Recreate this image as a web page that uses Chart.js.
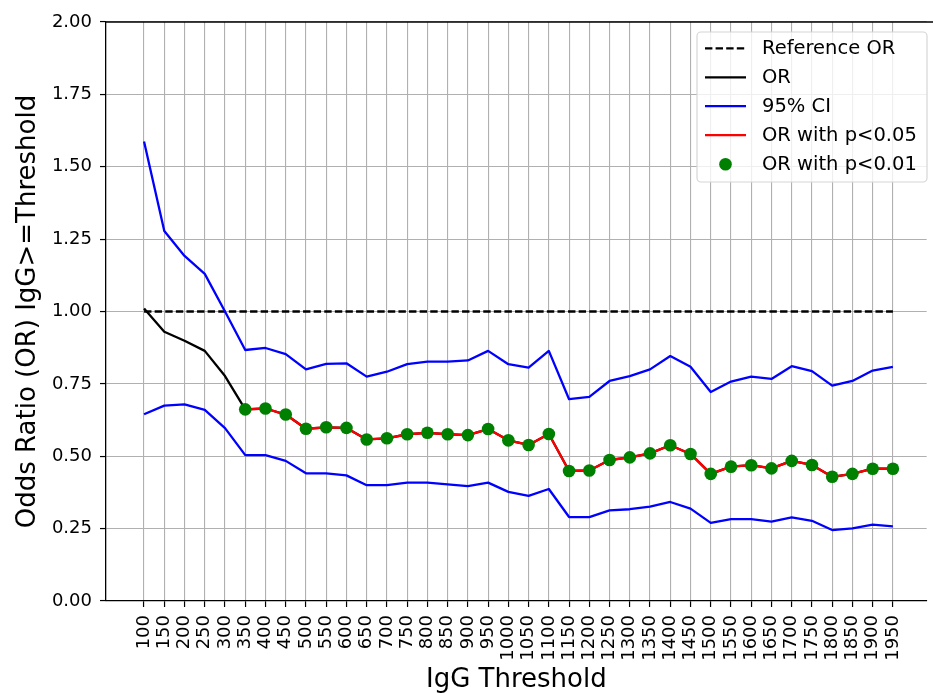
<!DOCTYPE html>
<html>
<head>
<meta charset="utf-8">
<script src="https://cdn.jsdelivr.net/npm/chart.js@4"></script>
<style>
  html, body { margin: 0; padding: 0; background: #fff; overflow: hidden; }
  #c { display: block; }
</style>
</head>
<body>
<canvas id="c" width="933" height="693"></canvas>
<script>
const thresholds = [100,150,200,250,300,350,400,450,500,550,600,650,700,750,800,850,900,950,1000,1050,
  1100,1150,1200,1250,1300,1350,1400,1450,1500,1550,1600,1650,1700,1750,1800,1850,1900,1950];

const referenceOR = [1,1,1,1,1,1,1,1,1,1,1,1,1,1,1,1,1,1,1,1,1,1,1,1,1,1,1,1,1,1,1,1,1,1,1,1,1,1];

const oddsRatio = [1.010,0.930,0.899,0.864,0.777,0.662,0.665,0.644,0.595,0.600,0.598,0.558,0.562,0.576,
  0.581,0.576,0.573,0.594,0.555,0.539,0.577,0.449,0.451,0.487,0.496,0.510,0.538,0.508,0.439,0.464,
  0.469,0.458,0.484,0.470,0.429,0.439,0.457,0.457];

const ciUpper = [1.587,1.278,1.192,1.130,1.000,0.867,0.874,0.853,0.800,0.819,0.821,0.775,0.792,0.818,
  0.827,0.827,0.831,0.864,0.818,0.806,0.864,0.697,0.705,0.760,0.777,0.800,0.846,0.809,0.722,0.758,
  0.775,0.767,0.811,0.794,0.744,0.760,0.796,0.809];

const ciLower = [0.645,0.675,0.679,0.660,0.597,0.504,0.504,0.484,0.441,0.441,0.434,0.400,0.400,0.409,
  0.409,0.403,0.397,0.409,0.377,0.363,0.387,0.290,0.290,0.313,0.317,0.326,0.342,0.319,0.270,0.283,
  0.283,0.274,0.289,0.277,0.245,0.251,0.264,0.258];

// significance flags per threshold
const sigP05 = [0,0,0,0,0,1,1,1,1,1,1,1,1,1,1,1,1,1,1,1,1,1,1,1,1,1,1,1,1,1,1,1,1,1,1,1,1,1];
const sigP01 = [0,0,0,0,0,1,1,1,1,1,1,1,1,1,1,1,1,1,1,1,1,1,1,1,1,1,1,1,1,1,1,1,1,1,1,1,1,1];

const yTicks = [0,0.25,0.5,0.75,1.0,1.25,1.5,1.75,2.0];

const pts = arr => arr.map((v, i) => ({x: i, y: v}));
const masked = (arr, flags) => arr.map((v, i) => ({x: i, y: flags[i] ? v : null}));

const FONT = "'DejaVu Sans', 'Liberation Sans', sans-serif";
const LW = 2.3;

const legendItems = [
  {label: 'Reference OR', type: 'line', color: '#000000', dash: [7.4, 3.2]},
  {label: 'OR', type: 'line', color: '#000000', dash: []},
  {label: '95% CI', type: 'line', color: '#0000ff', dash: []},
  {label: 'OR with p<0.05', type: 'line', color: '#ff0000', dash: []},
  {label: 'OR with p<0.01', type: 'dot', color: '#008000'}
];

const framePlugin = {
  id: 'frame',
  afterDatasetsDraw(chart) {
    const {ctx, chartArea: a} = chart;
    ctx.save();
    ctx.strokeStyle = '#000';
    ctx.lineWidth = 1.3;
    ctx.beginPath();
    ctx.moveTo(a.left, a.top);
    ctx.lineTo(chart.width, a.top);
    ctx.stroke();
    ctx.restore();
  },
  afterDraw(chart) {
    const ctx = chart.ctx;
    const x0 = 697, y0 = 32, w = 230, h = 150, r = 4;
    ctx.save();
    ctx.beginPath();
    ctx.moveTo(x0 + r, y0);
    ctx.arcTo(x0 + w, y0, x0 + w, y0 + h, r);
    ctx.arcTo(x0 + w, y0 + h, x0, y0 + h, r);
    ctx.arcTo(x0, y0 + h, x0, y0, r);
    ctx.arcTo(x0, y0, x0 + w, y0, r);
    ctx.closePath();
    ctx.fillStyle = 'rgba(255,255,255,0.8)';
    ctx.fill();
    ctx.strokeStyle = '#d6d6d6';
    ctx.lineWidth = 1.2;
    ctx.stroke();
    const rowY = [48.3, 77.3, 106.2, 135.2, 164.3];
    ctx.font = '19.5px ' + FONT;
    ctx.textBaseline = 'middle';
    ctx.textAlign = 'left';
    legendItems.forEach((it, i) => {
      const y = rowY[i];
      if (it.type === 'line') {
        ctx.beginPath();
        ctx.setLineDash(it.dash);
        ctx.strokeStyle = it.color;
        ctx.lineWidth = LW;
        ctx.moveTo(705, y);
        ctx.lineTo(746, y);
        ctx.stroke();
        ctx.setLineDash([]);
      } else {
        ctx.beginPath();
        ctx.fillStyle = it.color;
        ctx.arc(725.5, y, 6.3, 0, Math.PI * 2);
        ctx.fill();
      }
      ctx.fillStyle = '#000';
      ctx.fillText(it.label, 762, y + 1);
    });
    ctx.restore();
  }
};

new Chart(document.getElementById('c'), {
  type: 'line',
  data: {
    datasets: [
      {label: 'OR with p<0.01', data: masked(oddsRatio, sigP01), showLine: false,
        pointRadius: 6.3, pointHoverRadius: 6.3, pointBackgroundColor: '#008000', pointBorderWidth: 0,
        borderColor: '#008000', order: 0},
      {label: 'OR with p<0.05', data: masked(oddsRatio, sigP05), borderColor: '#ff0000', borderWidth: LW,
        pointRadius: 0, spanGaps: false, order: 1},
      {label: '95% CI', data: pts(ciUpper), borderColor: '#0000ff', borderWidth: LW, pointRadius: 0, order: 3},
      {label: '95% CI lower', data: pts(ciLower), borderColor: '#0000ff', borderWidth: LW, pointRadius: 0, order: 3},
      {label: 'OR', data: pts(oddsRatio), borderColor: '#000000', borderWidth: LW, pointRadius: 0, order: 2},
      {label: 'Reference OR', data: pts(referenceOR), borderColor: '#000000', borderWidth: LW,
        borderDash: [7.4, 3.2], pointRadius: 0, order: 4}
    ]
  },
  options: {
    responsive: false,
    animation: false,
    events: [],
    layout: {padding: {top: 22, right: 0, left: 0, bottom: 0}},
    plugins: {legend: {display: false}, tooltip: {enabled: false}},
    elements: {line: {tension: 0, borderJoinStyle: 'round', borderCapStyle: 'butt'}},
    scales: {
      x: {
        type: 'linear',
        min: -1.88,
        max: 38.67,
        afterBuildTicks: s => { s.ticks = thresholds.map((t, i) => ({value: i})); },
        afterFit: s => { s.height = 92; s.paddingLeft = 0; s.paddingRight = 0; },
        ticks: {
          autoSkip: false, maxRotation: 90, minRotation: 90,
          callback: v => String(thresholds[v]),
          font: {family: FONT, size: 18}, color: '#000', padding: 8
        },
        grid: {color: '#b0b0b0', lineWidth: 1.1, tickLength: 6, tickColor: '#000', tickWidth: 1.2},
        border: {display: true, color: '#000', width: 1.3},
        title: {display: true, text: 'IgG Threshold', font: {family: FONT, size: 26, lineHeight: 1},
          color: '#000', padding: {top: 0, bottom: 0}}
      },
      y: {
        type: 'linear',
        min: 0,
        max: 2,
        afterBuildTicks: s => { s.ticks = yTicks.map(v => ({value: v})); },
        afterFit: s => { s.width = 106; s.paddingTop = 0; s.paddingBottom = 0; },
        ticks: {
          callback: v => Number(v).toFixed(2),
          font: {family: FONT, size: 18}, color: '#000', padding: 8
        },
        grid: {color: '#b0b0b0', lineWidth: 1.1, tickLength: 6, tickColor: '#000', tickWidth: 1.2},
        border: {display: true, color: '#000', width: 1.3},
        title: {display: true, text: 'Odds Ratio (OR) IgG>=Threshold', font: {family: FONT, size: 26, lineHeight: 1},
          color: '#000', padding: {top: 15, bottom: 0}}
      }
    }
  },
  plugins: [framePlugin]
});
</script>
</body>
</html>
